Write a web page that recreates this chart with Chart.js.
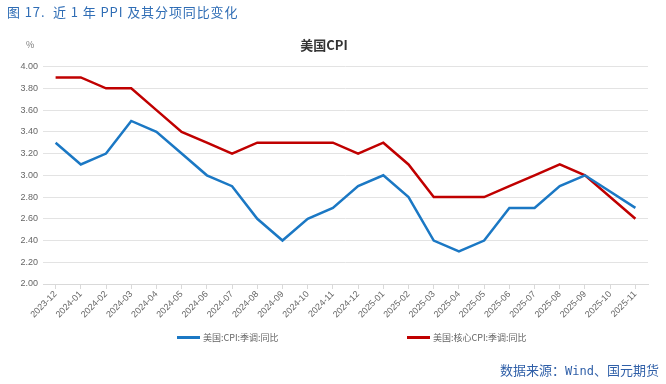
<!DOCTYPE html>
<html>
<head>
<meta charset="utf-8">
<script src="https://cdn.jsdelivr.net/npm/chart.js@4.4.0/dist/chart.umd.min.js"></script>
<style>
  body { margin: 0; width: 666px; height: 384px; background: #fff; position: relative; overflow: hidden;
         font-family: "Noto Sans CJK SC", sans-serif; }
  #head { position: absolute; left: 7px; top: 2px; font-size: 13px; color: #2f6db5; letter-spacing: 0.9px; }
  #unit { position: absolute; left: 26px; top: 38px; font-size: 9px; color: #777; }
  #foot { position: absolute; right: 7px; top: 360px; font-size: 13px; color: #2f5fa8; }
  #legend { position: absolute; top: 331px; left: 0; width: 666px; font-size: 9px; color: #666; }
  .item { position: absolute; display: flex; align-items: center; }
  .swatch { width: 23px; height: 3px; margin-right: 3px; }
  #wrap { position: absolute; left: 0; top: 0; width: 666px; height: 384px; }
</style>
</head>
<body>
<div id="wrap"><canvas id="myChart" width="666" height="384"></canvas></div>
<div id="head">图 17.&nbsp; 近 1 年 PPI 及其分项同比变化</div>
<div id="unit">%</div>
<div id="legend"></div>
<div id="foot">数据来源：<span style="font-family:'DejaVu Sans Mono',monospace;font-size:12px">Wind</span>、国元期货</div>
<script>
const months = ["2023-12","2024-01","2024-02","2024-03","2024-04","2024-05","2024-06","2024-07","2024-08","2024-09","2024-10","2024-11",
                "2024-12","2025-01","2025-02","2025-03","2025-04","2025-05","2025-06","2025-07","2025-08","2025-09","2025-10","2025-11"]
const cpi  = [3.3,3.1,3.2,3.5,3.4,3.2,3.0,2.9,2.6,2.4,2.6,2.7,2.9,3.0,2.8,2.4,2.3,2.4,2.7,2.7,2.9,3.0,null,2.7]
const core = [3.9,3.9,3.8,3.8,3.6,3.4,3.3,3.2,3.3,3.3,3.3,3.3,3.2,3.3,3.1,2.8,2.8,2.8,2.9,3.0,3.1,3.0,null,2.6]
const seriesNames = ["美国:CPI:季调:同比","美国:核心CPI:季调:同比"]
const seriesColors = ["#1b78c4","#c00000"]

const legendPos = [177, 407]
const legend = document.getElementById("legend")
seriesNames.forEach((n, i) => {
    const d = document.createElement("div")
    d.className = "item"
    d.style.left = legendPos[i] + "px"
    d.innerHTML = '<div class="swatch" style="background:' + seriesColors[i] + '"></div>' + n
    legend.appendChild(d)
})

var ctx = document.getElementById('myChart').getContext('2d');
var tickFont = { family: "Liberation Sans", size: 9 }

var myChart = new Chart(ctx, {
    type: 'line',
    data: {
        labels: months,
        datasets: [
            { label: seriesNames[0], data: cpi, borderColor: seriesColors[0], borderWidth: 2.5, pointRadius: 0, spanGaps: true, tension: 0 },
            { label: seriesNames[1], data: core, borderColor: seriesColors[1], borderWidth: 2.5, pointRadius: 0, spanGaps: true, tension: 0 }
        ]
    },
    options: {
        responsive: false,
        animation: false,
        layout: { padding: { top: 0, right: 18, bottom: 64, left: 0 } },
        plugins: {
            legend: { display: false },
            tooltip: { enabled: false },
            title: {
                display: true, text: "美国CPI", color: "#333",
                font: { family: "Noto Sans CJK SC", size: 13, weight: "bold" },
                padding: { top: 37, bottom: 14 }
            }
        },
        scales: {
            x: {
                offset: true,
                grid: { display: true, drawOnChartArea: false, drawTicks: true, tickLength: 5, color: "#d9d9d9" },
                border: { color: "#d9d9d9" },
                ticks: { color: "#666", font: tickFont, maxRotation: 45, minRotation: 45, autoSkip: false, padding: 0 }
            },
            y: {
                min: 2, max: 4,
                afterFit: function(s) { s.width = 43 },
                grid: { color: "#e3e3e3", drawTicks: false },
                border: { display: false },
                ticks: { stepSize: 0.2, color: "#666", font: tickFont, padding: 5, callback: v => v.toFixed(2) }
            }
        }
    }
});
myChart.update()
</script>
</body>
</html>
